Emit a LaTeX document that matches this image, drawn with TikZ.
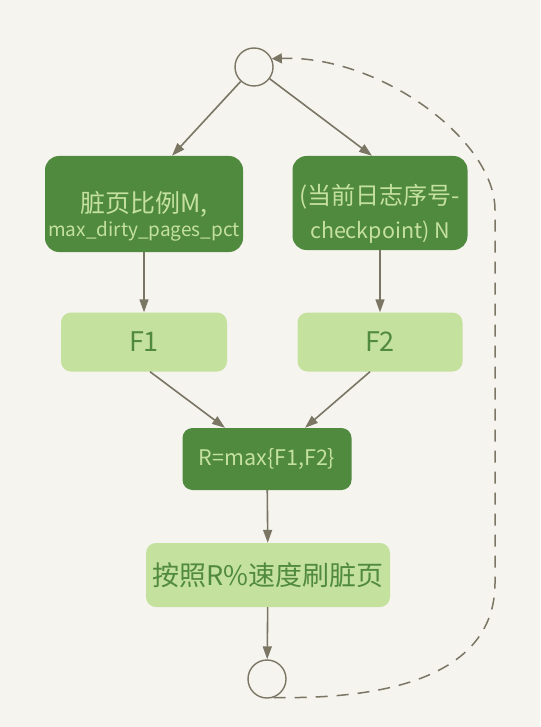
\documentclass[tikz,border=0pt]{standalone}
\usepackage{fontspec}
\setmainfont{Noto Sans CJK SC}
\usetikzlibrary{arrows.meta,calc,positioning}
\definecolor{bgcream}{HTML}{F5F4EF}
\definecolor{darkgreen}{HTML}{508A3E}
\definecolor{lightgreen}{HTML}{C5E19E}
\definecolor{arrowgray}{HTML}{7B7664}

\newcommand{\fsz}[2]{\fontsize{#1}{#2}\selectfont}

\tikzset{
  darkbox/.style={fill=darkgreen, text=lightgreen, rounded corners=14pt, align=center,
    inner sep=0pt},
  lightbox/.style={fill=lightgreen, text=darkgreen, rounded corners=10pt, align=center,
    inner sep=0pt},
  endpoint/.style={circle, draw=arrowgray, line width=1.4pt, minimum size=38pt, inner sep=0pt},
  flow/.style={draw=arrowgray, line width=1.6pt, -{Triangle[length=13pt,width=9pt]}},
  loopback/.style={draw=arrowgray, line width=1.5pt, dash pattern=on 12pt off 9pt,
    -{Triangle[length=10pt,width=10pt]}}
}

\begin{document}
\begin{tikzpicture}[x=1pt,y=-1pt]

% background and page size
\path[use as bounding box, fill=bgcream] (0,0) rectangle (540,727);

% start and end points
\node[endpoint] (start) at (254,67) {};
\node[endpoint] (stop) at (267,679) {};

% the two inputs (struts push the text a bit down, as in the sketch)
\node[darkbox, minimum width=198pt, minimum height=96pt] (ratio) at (144,204)
  {\fsz{25}{30}\rule{0pt}{45pt}脏页比例M,\\[3pt]\fsz{19}{30}max\_dirty\_pages\_pct};
\node[darkbox, minimum width=175pt, minimum height=94pt] (lsn) at (380,203)
  {\fsz{24}{34}\rule{0pt}{42pt}(当前日志序号-\\[11pt]\fsz{21.5}{34}checkpoint) N};

% the two factors
\node[lightbox, font=\fsz{27}{30}, minimum width=166pt, minimum height=59pt] (fone) at (144,342) {F1};
\node[lightbox, font=\fsz{27}{30}, minimum width=165pt, minimum height=59pt] (ftwo) at (380,342) {F2};

% combined rate
\node[darkbox, rounded corners=10pt, font=\fsz{21.5}{26}, minimum width=169pt, minimum height=62pt] (rmax) at (267,459)
  {R=max\{F1,F2\}};

% flushing step
\node[lightbox, font=\fsz{27}{30}, minimum width=244pt, minimum height=64pt] (flush) at (268,575)
  {按照R\%速度刷脏页};

% connectors
\draw[flow] (start) -- ($(ratio.north)+(28,0)$);
\draw[flow] (start) -- ($(lsn.north)+(-8,0)$);
\draw[flow] (ratio) -- (fone);
\draw[flow] (lsn) -- (ftwo);
\draw[flow] ($(fone.south)+(6,0)$) -- ($(rmax.north)+(-42,0)$);
\draw[flow] ($(ftwo.south)+(-10,0)$) -- ($(rmax.north)+(38,0)$);
\draw[flow] (rmax) -- (flush);
\draw[flow] (flush) -- (stop);

% loop back to the start
\draw[loopback] (stop.-70) .. controls (420,700) and (495,660) .. (495,583)
  -- (495,210) .. controls (495,140) and (380,55) .. (start.25);

\end{tikzpicture}
\end{document}
